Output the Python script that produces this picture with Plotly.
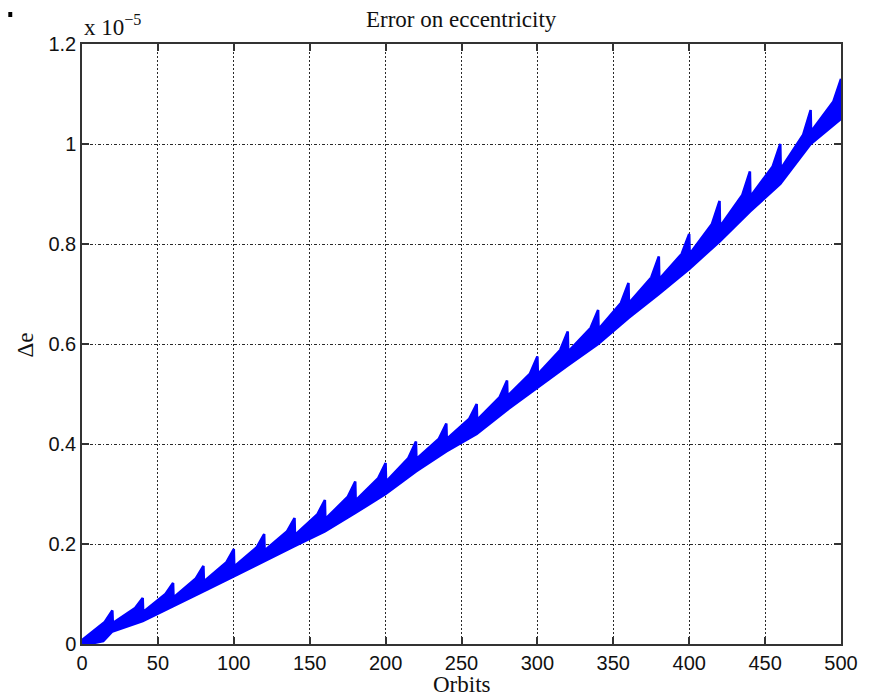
import numpy as np
import plotly.graph_objects as go

SCALE = 1e-5

# Orbit at which each "tooth" ends (reset points)
reset_orbits = [20, 40, 60, 80, 100, 120, 140, 160, 180, 200, 220, 240, 260,
                280, 300, 320, 340, 360, 380, 400, 420, 440, 460, 480, 500]

# Upper envelope: value at the peak (end of each tooth), in units of 1e-5
peak_vals = [0.067, 0.092, 0.122, 0.156, 0.19, 0.22, 0.252, 0.288, 0.325, 0.362,
             0.405, 0.441, 0.48, 0.527, 0.575, 0.625, 0.668, 0.722, 0.775, 0.82,
             0.886, 0.945, 1.0, 1.068, 1.13]

# Upper envelope ~5 orbits before each peak
shoulder_vals = [0.044, 0.072, 0.1, 0.131, 0.163, 0.193, 0.225, 0.259, 0.294, 0.331,
                 0.372, 0.41, 0.45, 0.493, 0.54, 0.588, 0.632, 0.682, 0.733, 0.78,
                 0.84, 0.898, 0.955, 1.018, 1.085]

# Upper envelope right after each reset (orbit 0, 20, ..., 480)
start_orbits = [0, 20, 40, 60, 80, 100, 120, 140, 160, 180, 200, 220, 240,
                260, 280, 300, 320, 340, 360, 380, 400, 420, 440, 460, 480]
start_vals = [0.008, 0.042, 0.064, 0.093, 0.125, 0.155, 0.187, 0.218, 0.25, 0.287,
              0.325, 0.37, 0.41, 0.448, 0.496, 0.54, 0.585, 0.63, 0.682, 0.73,
              0.78, 0.835, 0.895, 0.95, 1.025]

# Lower envelope
lower_orbits = [0, 8, 14, 20, 40, 60, 80, 100, 120, 140, 160, 180, 200, 220, 240,
                260, 280, 300, 320, 340, 360, 380, 400, 420, 440, 460, 480, 500]
lower_vals = [0.0, 0.002, 0.006, 0.025, 0.046, 0.075, 0.105, 0.135, 0.165, 0.196,
              0.225, 0.262, 0.3, 0.345, 0.385, 0.42, 0.468, 0.512, 0.557, 0.6,
              0.652, 0.7, 0.75, 0.805, 0.865, 0.92, 1.0, 1.05]

x_ticks = [0, 50, 100, 150, 200, 250, 300, 350, 400, 450, 500]
y_ticks = [0, 0.2, 0.4, 0.6, 0.8, 1.0, 1.2]
y_tick_text = ["0", "0.2", "0.4", "0.6", "0.8", "1", "1.2"]

# Build band polygon (upper path forward, lower path backward)
ux, uy = [], []
for i, b in enumerate(reset_orbits):
    a = start_orbits[i]
    ux.append(a + (0.3 if a > 0 else 0.0))
    uy.append(start_vals[i])
    ux.append(b - 5)
    uy.append(shoulder_vals[i])
    ux.append(b)
    uy.append(peak_vals[i])
px = ux + lower_orbits[::-1]
py = uy + lower_vals[::-1]
px.append(px[0])
py.append(py[0])
py = list(np.array(py) * SCALE)

fig = go.Figure()
fig.add_trace(go.Scatter(x=px, y=py, mode="lines", fill="toself",
                         fillcolor="rgb(0,0,255)",
                         line=dict(color="rgb(0,0,255)", width=2.5),
                         hoverinfo="skip", showlegend=False))

grid_color = "#2a2a2a"
tick_font = dict(family="Liberation Sans", size=20, color="#111")
fig.update_xaxes(range=[0, 500], tickvals=x_ticks,
                 showgrid=True, gridcolor=grid_color, gridwidth=1, griddash="2px,2px",
                 ticks="inside", ticklen=7, tickcolor="#333", tickwidth=1.5,
                 showline=True, linecolor="#333", linewidth=1.5, mirror="ticks",
                 zeroline=False, tickfont=tick_font)
fig.update_yaxes(range=[0, 1.2 * SCALE], tickvals=[v * SCALE for v in y_ticks],
                 ticktext=y_tick_text,
                 showgrid=True, gridcolor=grid_color, gridwidth=1, griddash="3px,2px,1px,2px",
                 ticks="inside", ticklen=7, tickcolor="#333", tickwidth=1.5,
                 showline=True, linecolor="#333", linewidth=1.5, mirror="ticks",
                 zeroline=False, tickfont=tick_font)

serif = dict(family="Liberation Serif", size=23, color="#111")
fig.update_layout(
    width=862, height=688,
    margin=dict(l=74, r=26, t=36, b=52),
    paper_bgcolor="white", plot_bgcolor="white",
    annotations=[
        dict(text="Error on eccentricity", x=0.5, y=1.04, xref="paper", yref="paper",
             xanchor="center", yanchor="middle", showarrow=False, font=serif),
        dict(text="x 10<sup>−5</sup>", x=0.0, y=1.03, xref="paper", yref="paper",
             xanchor="left", yanchor="middle", showarrow=False, font=serif),
        dict(text="Orbits", x=0.5, y=-0.068, xref="paper", yref="paper",
             xanchor="center", yanchor="middle", showarrow=False, font=serif),
        dict(text="Δe", x=-0.0748, y=0.498, xref="paper", yref="paper",
             xanchor="center", yanchor="middle", showarrow=False, textangle=-90,
             font=serif),
    ],
    shapes=[dict(type="rect", xref="paper", yref="paper",
                 x0=-0.0971, x1=-0.0919, y0=1.045, y1=1.0533,
                 fillcolor="black", line=dict(width=0))],
)

fig.write_html("out.html")
